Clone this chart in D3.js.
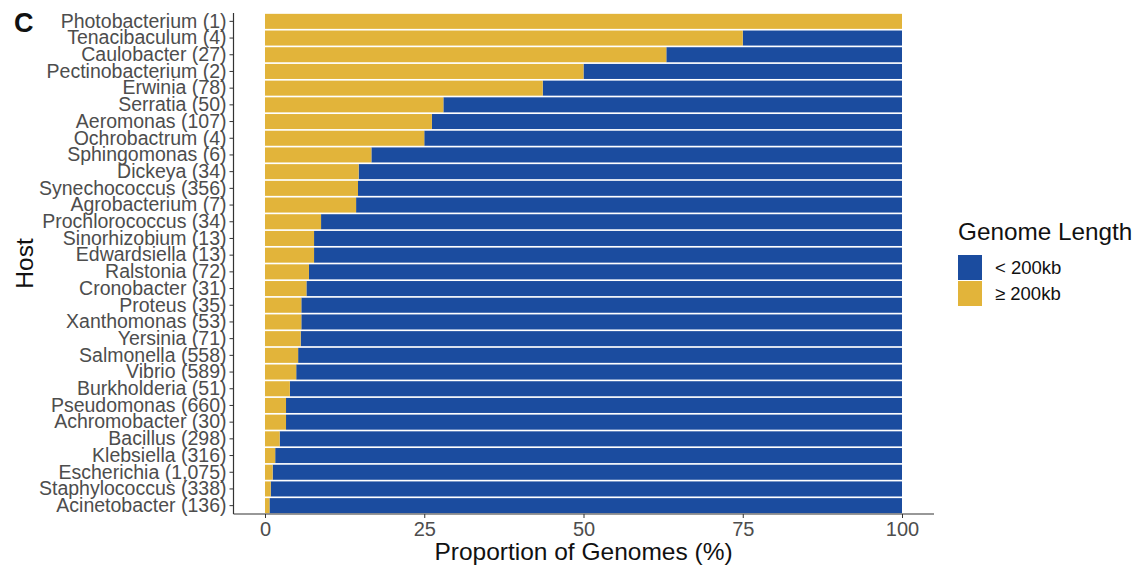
<!DOCTYPE html>
<html>
<head>
<meta charset="utf-8">
<script src="https://cdn.jsdelivr.net/npm/d3@7"></script>
<style>
  html, body { margin: 0; padding: 0; background: #fff; }
  svg { display: block; font-family: "Liberation Sans", Arial, Helvetica, sans-serif; }
</style>
</head>
<body>
<svg id="chart" width="1139" height="567"></svg>
<script>
// Host genera, ordered top to bottom
const hosts = [
  "Photobacterium", "Tenacibaculum", "Caulobacter", "Pectinobacterium", "Erwinia",
  "Serratia", "Aeromonas", "Ochrobactrum", "Sphingomonas", "Dickeya",
  "Synechococcus", "Agrobacterium", "Prochlorococcus", "Sinorhizobium", "Edwardsiella",
  "Ralstonia", "Cronobacter", "Proteus", "Xanthomonas", "Yersinia",
  "Salmonella", "Vibrio", "Burkholderia", "Pseudomonas", "Achromobacter",
  "Bacillus", "Klebsiella", "Escherichia", "Staphylococcus", "Acinetobacter"
];
// Number of phage genomes per host
const genomeCounts = [
  1, 4, 27, 2, 78,
  50, 107, 4, 6, 34,
  356, 7, 34, 13, 13,
  72, 31, 35, 53, 71,
  558, 589, 51, 660, 30,
  298, 316, 1075, 338, 136
];
// Share of genomes >= 200kb (%)
const pctLarge = [
  100, 75, 63.0, 50, 43.6,
  28, 26.2, 25, 16.7, 14.7,
  14.6, 14.3, 8.8, 7.7, 7.7,
  6.9, 6.5, 5.7, 5.7, 5.6,
  5.2, 4.9, 3.9, 3.3, 3.3,
  2.3, 1.6, 1.2, 0.9, 0.7
];
const xTicks = [0, 25, 50, 75, 100];
const legendKeys = ["< 200kb", "\u2265 200kb"];
const legendColors = ["#1b4c9f", "#e2b43a"];

const svg = d3.select("#chart");
const fmt = d3.format(",");
const labels = hosts.map((h, i) => `${h} (${fmt(genomeCounts[i])})`);

const panel = { left: 233.5, right: 934, top: 13, bottom: 514 };

const x = d3.scaleLinear().domain([0, 100]).range([265, 902]);
const y = d3.scaleBand().domain(labels).range([panel.top, panel.bottom]).paddingInner(0.1).paddingOuter(0.05);

const rows = labels.map((l, i) => ({ label: l, large: pctLarge[i] }));

// small-genome share (blue), from the large share to 100%
svg.append("g").selectAll("rect.small").data(rows).join("rect")
  .attr("x", d => x(d.large))
  .attr("y", d => y(d.label))
  .attr("width", d => Math.max(0, x(100) - x(d.large)))
  .attr("height", y.bandwidth())
  .attr("fill", legendColors[0]);

// large-genome share (yellow), from 0
svg.append("g").selectAll("rect.large").data(rows).join("rect")
  .attr("x", x(0))
  .attr("y", d => y(d.label))
  .attr("width", d => x(d.large) - x(0))
  .attr("height", y.bandwidth())
  .attr("fill", legendColors[1]);

const axisColor = "#333333";
const tickText = "#4d4d4d";

// y axis
const yAxis = svg.append("g")
  .attr("transform", `translate(${panel.left},0)`)
  .call(d3.axisLeft(y).tickSize(4).tickPadding(3));
yAxis.select(".domain").remove();
yAxis.selectAll(".tick line").attr("stroke", axisColor).attr("stroke-width", 1);
yAxis.selectAll(".tick text").attr("fill", tickText).attr("font-size", 19.5)
  .attr("font-family", "Liberation Sans, Arial, sans-serif");
svg.append("line")
  .attr("x1", panel.left).attr("x2", panel.left)
  .attr("y1", panel.top).attr("y2", panel.bottom)
  .attr("stroke", axisColor).attr("stroke-width", 1.2);

// x axis
const xAxis = svg.append("g")
  .attr("transform", `translate(0,${panel.bottom})`)
  .call(d3.axisBottom(x).tickValues(xTicks).tickSize(4).tickPadding(4));
xAxis.select(".domain").remove();
xAxis.selectAll(".tick line").attr("stroke", axisColor).attr("stroke-width", 1);
xAxis.selectAll(".tick text").attr("fill", tickText).attr("font-size", 20)
  .attr("font-family", "Liberation Sans, Arial, sans-serif");
svg.append("line")
  .attr("x1", panel.left).attr("x2", panel.right)
  .attr("y1", panel.bottom).attr("y2", panel.bottom)
  .attr("stroke", axisColor).attr("stroke-width", 1.2);

// axis titles
svg.append("text")
  .attr("x", (x(0) + x(100)) / 2).attr("y", 560)
  .attr("text-anchor", "middle").attr("font-size", 24.5).attr("fill", "#111")
  .text("Proportion of Genomes (%)");
svg.append("text")
  .attr("transform", `translate(33,${(panel.top + panel.bottom) / 2}) rotate(-90)`)
  .attr("text-anchor", "middle").attr("font-size", 24.5).attr("fill", "#111")
  .text("Host");

// panel letter
svg.append("text")
  .attr("x", 14).attr("y", 32)
  .attr("font-size", 27).attr("font-weight", "bold").attr("fill", "#111")
  .text("C");

// legend
const legend = svg.append("g").attr("transform", "translate(958,0)");
legend.append("text")
  .attr("x", 0).attr("y", 240)
  .attr("font-size", 24.3).attr("fill", "#111")
  .text("Genome Length");
const keys = legend.selectAll("g.key").data(legendKeys).join("g")
  .attr("transform", (d, i) => `translate(0,${255 + i * 26})`);
keys.append("rect")
  .attr("width", 24).attr("height", 25)
  .attr("fill", (d, i) => legendColors[i]);
keys.append("text")
  .attr("x", 37).attr("y", 13).attr("dy", "0.35em")
  .attr("font-size", 18.5).attr("fill", "#111")
  .text(d => d);
</script>
</body>
</html>
